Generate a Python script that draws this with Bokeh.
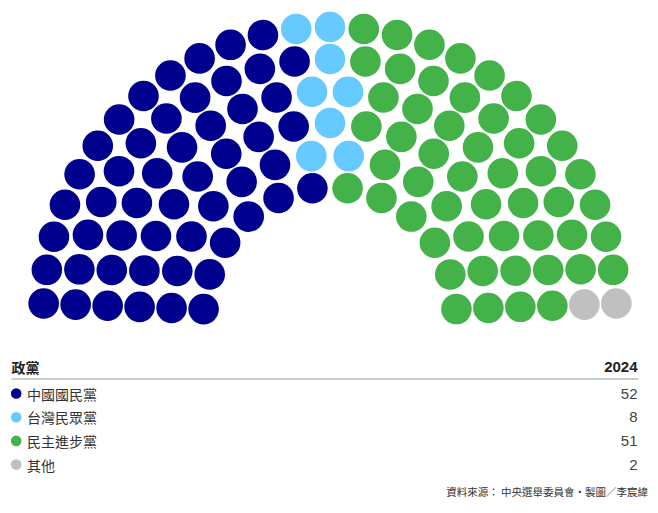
import math
from bokeh.plotting import figure
from bokeh.models import Range1d
from bokeh.core.properties import value
from bokeh.embed import file_html
from bokeh.resources import INLINE

# ---- data ----
parties = ["中國國民黨", "台灣民眾黨", "民主進步黨", "其他"]
seats = [52, 8, 51, 2]
colors = ["#00008F", "#66C9FF", "#43B248", "#C0C0C0"]
column_header = "政黨"
year_label = "2024"
source_text = "資料來源： 中央選舉委員會•製圖／李宸緯"

# ---- layout of the hemicycle ----
row_counts = [12, 14, 17, 20, 23, 27]
cx, cy = 329.5, 313.0
r_outer = 286.5
gap = 32.0
a0 = 2.0
dot_r = 15.3

seat_list = []
nrows = len(row_counts)
for k, n in enumerate(row_counts):
    r = r_outer - (nrows - 1 - k) * gap
    step = (180.0 - 2 * a0) / (n - 1)
    for i in range(n):
        ang = 180.0 - a0 - i * step
        seat_list.append((round(ang, 6), r))
seat_list.sort(key=lambda t: (-t[0], t[1]))

party_of_seat = []
for pi, cnt in enumerate(seats):
    party_of_seat += [pi] * cnt

xs, ys, cs = [], [], []
for (ang, r), pi in zip(seat_list, party_of_seat):
    a = math.radians(ang)
    xs.append(cx + r * math.cos(a))
    ys.append(cy - r * math.sin(a))
    cs.append(colors[pi])

W, H = 650, 505
p = figure(width=W, height=H, output_backend="svg", toolbar_location=None,
           x_range=Range1d(0, W), y_range=Range1d(H, 0),
           min_border=0, outline_line_color=None)
p.axis.visible = False
p.grid.visible = False
p.background_fill_color = "white"
p.border_fill_color = "white"

p.circle(x=xs, y=ys, radius=dot_r, fill_color=cs, line_color=None)

cjk = value("Noto Sans CJK TC")
lat = value("Liberation Sans")

# header
p.text(x=[11], y=[366.5], text=[column_header], text_font=cjk, text_font_size="14px",
       text_font_style="bold", text_color="#222222", text_baseline="middle", text_align="left")
p.text(x=[637], y=[366.5], text=[year_label], text_font=lat, text_font_size="15px",
       text_font_style="bold", text_color="#222222", text_baseline="middle", text_align="right")
p.segment(x0=[11], y0=[378.5], x1=[638], y1=[378.5], line_color="#999999", line_width=1)

row_y0 = 393.0
row_dy = 23.7
ly = [row_y0 + i * row_dy for i in range(len(parties))]
p.circle(x=[15.7] * len(parties), y=ly, radius=5.3, fill_color=colors, line_color=None)
p.text(x=[26.5] * len(parties), y=ly, text=parties, text_font=cjk, text_font_size="14px",
       text_color="#333333", text_baseline="middle", text_align="left")
p.text(x=[637] * len(parties), y=ly, text=[str(s) for s in seats], text_font=lat,
       text_font_size="15px", text_color="#444444", text_baseline="middle", text_align="right")

p.text(x=[647.5], y=[491], text=[source_text], text_font=cjk, text_font_size="10.5px",
       text_color="#333333", text_baseline="middle", text_align="right")

open("out.html", "w").write(file_html(p, INLINE))
